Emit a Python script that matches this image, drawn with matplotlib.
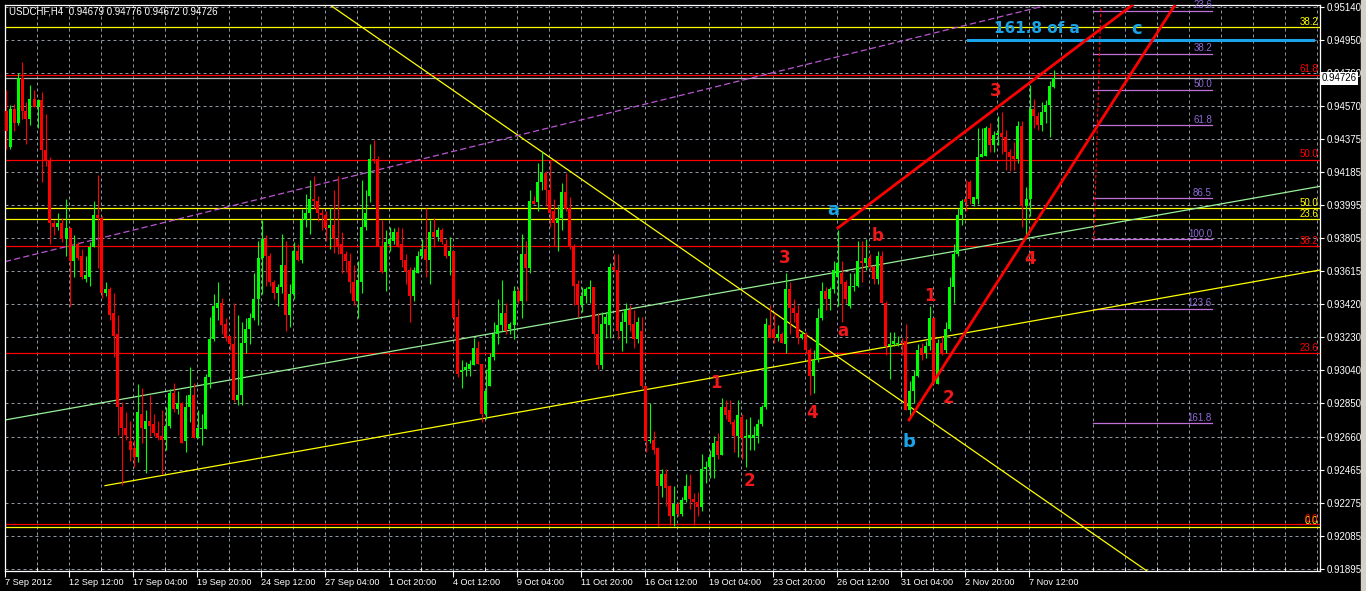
import numpy as np
import matplotlib
matplotlib.use("Agg")
import matplotlib.pyplot as plt
from matplotlib.patches import Rectangle

# USDCHF H4 candles, prices in 1/10000 (9454 -> 0.9454)
opens = [
    9454, 9433, 9455, 9447, 9473, 9454, 9449, 9461, 9456, 9460,
    9431, 9425, 9389, 9387, 9389, 9380, 9386, 9367, 9377, 9370,
    9357, 9358, 9375, 9394, 9392, 9349, 9351, 9337, 9325, 9283,
    9271, 9263, 9259, 9254, 9279, 9270, 9275, 9273, 9268, 9266,
    9264, 9272, 9291, 9282, 9285, 9263, 9283, 9290, 9265, 9270,
    9270, 9300, 9322, 9340, 9343, 9331, 9324, 9319, 9287, 9290,
    9320, 9328, 9334, 9345, 9369, 9380, 9370, 9355, 9349, 9352,
    9365, 9336, 9348, 9373, 9368, 9391, 9395, 9403, 9402, 9395,
    9394, 9386, 9388, 9380, 9377, 9371, 9367, 9355, 9344, 9355,
    9387, 9405, 9426, 9426, 9376, 9361, 9377, 9379, 9384, 9377,
    9368, 9362, 9347, 9360, 9370, 9374, 9368, 9384, 9381, 9385,
    9377, 9370, 9373, 9335, 9303, 9304, 9305, 9307, 9317, 9308,
    9279, 9295, 9312, 9325, 9330, 9337, 9328, 9330, 9350, 9344,
    9371, 9363, 9402, 9401, 9413, 9418, 9408, 9396, 9389, 9392,
    9407, 9398, 9376, 9354, 9342, 9347, 9351, 9352, 9325, 9307,
    9331, 9330, 9364, 9362, 9327, 9332, 9339, 9331, 9322, 9327,
    9295, 9263, 9264, 9259, 9237, 9244, 9237, 9220, 9227, 9221,
    9229, 9237, 9230, 9228, 9225, 9247, 9248, 9254, 9263, 9255,
    9283, 9281, 9274, 9266, 9277, 9265, 9265, 9265, 9266, 9273,
    9283, 9330, 9328, 9323, 9325, 9319, 9351, 9340, 9337, 9323,
    9325, 9316, 9301, 9310, 9334, 9350, 9345, 9351, 9358, 9360,
    9355, 9341, 9352, 9353, 9367, 9366, 9369, 9364, 9357, 9370,
    9343, 9318, 9319, 9319, 9320, 9321, 9281, 9292, 9301, 9317,
    9314, 9318, 9334, 9296, 9320, 9316, 9328, 9352, 9371, 9394,
    9403, 9413, 9400, 9403, 9427, 9428, 9444, 9434, 9440, 9441,
    9439, 9430, 9428, 9426, 9445, 9399, 9403, 9455, 9451, 9446,
    9453, 9457, 9467.9]
highs = [
    9466, 9457, 9458, 9476, 9482, 9459, 9469, 9466, 9461, 9465,
    9452, 9427, 9391, 9395, 9392, 9403, 9387, 9382, 9378, 9374,
    9370, 9378, 9402, 9417, 9393, 9355, 9352, 9349, 9336, 9286,
    9280, 9275, 9264, 9296, 9294, 9281, 9290, 9279, 9275, 9281,
    9283, 9293, 9297, 9292, 9286, 9290, 9306, 9297, 9281, 9279,
    9302, 9335, 9348, 9355, 9346, 9334, 9324, 9343, 9336, 9332,
    9334, 9337, 9360, 9379, 9391, 9382, 9372, 9356, 9354, 9383,
    9379, 9354, 9378, 9377, 9397, 9406, 9414, 9416, 9405, 9397,
    9396, 9398, 9408, 9416, 9384, 9373, 9372, 9365, 9367, 9414,
    9408, 9435, 9437, 9428, 9391, 9385, 9387, 9386, 9387, 9386,
    9371, 9364, 9364, 9373, 9380, 9398, 9391, 9392, 9387, 9386,
    9380, 9381, 9373, 9345, 9310, 9309, 9310, 9323, 9321, 9308,
    9305, 9314, 9332, 9345, 9356, 9343, 9332, 9353, 9352, 9383,
    9379, 9408, 9405, 9424, 9430, 9419, 9425, 9403, 9399, 9412,
    9418, 9404, 9377, 9356, 9352, 9352, 9356, 9352, 9337, 9338,
    9338, 9366, 9371, 9371, 9338, 9343, 9342, 9339, 9335, 9335,
    9295, 9285, 9269, 9260, 9247, 9247, 9238, 9237, 9228, 9231,
    9244, 9244, 9233, 9234, 9256, 9252, 9258, 9266, 9268, 9288,
    9287, 9287, 9276, 9287, 9279, 9276, 9277, 9272, 9276, 9284,
    9334, 9342, 9337, 9330, 9326, 9360, 9355, 9345, 9342, 9327,
    9326, 9317, 9316, 9340, 9355, 9352, 9352, 9367, 9385, 9367,
    9356, 9360, 9360, 9379, 9379, 9380, 9371, 9365, 9373, 9373,
    9344, 9326, 9326, 9324, 9323, 9331, 9298, 9304, 9319, 9320,
    9321, 9341, 9335, 9322, 9324, 9332, 9358, 9377, 9398, 9403,
    9414, 9414, 9404, 9444, 9444, 9445, 9447, 9442, 9451, 9453,
    9443, 9432, 9436, 9448, 9448, 9410, 9469, 9461, 9453, 9459,
    9460, 9471, 9477.6]
lows = [
    9432, 9432, 9442, 9446, 9449, 9435, 9446, 9456, 9444, 9413,
    9422, 9377, 9382, 9385, 9378, 9370, 9341, 9358, 9368, 9357,
    9355, 9353, 9375, 9363, 9346, 9347, 9333, 9312, 9267, 9238,
    9264, 9252, 9248, 9251, 9262, 9245, 9266, 9266, 9264, 9244,
    9258, 9271, 9280, 9279, 9262, 9257, 9274, 9265, 9265, 9261,
    9270, 9294, 9321, 9333, 9325, 9321, 9316, 9286, 9284, 9284,
    9314, 9319, 9333, 9330, 9348, 9353, 9353, 9345, 9341, 9349,
    9327, 9329, 9345, 9367, 9366, 9387, 9383, 9398, 9390, 9385,
    9379, 9374, 9372, 9371, 9360, 9361, 9349, 9342, 9334, 9349,
    9385, 9401, 9424, 9376, 9360, 9350, 9373, 9377, 9375, 9364,
    9354, 9332, 9344, 9360, 9369, 9358, 9354, 9375, 9379, 9377,
    9369, 9359, 9327, 9300, 9294, 9301, 9301, 9307, 9308, 9274,
    9276, 9295, 9310, 9319, 9327, 9325, 9325, 9322, 9343, 9334,
    9344, 9360, 9400, 9396, 9408, 9399, 9387, 9376, 9373, 9385,
    9396, 9374, 9342, 9335, 9338, 9343, 9343, 9314, 9305, 9305,
    9323, 9323, 9361, 9322, 9315, 9320, 9327, 9317, 9320, 9294,
    9257, 9262, 9256, 9214, 9231, 9226, 9215, 9214, 9220, 9220,
    9228, 9224, 9215, 9220, 9223, 9239, 9242, 9242, 9253, 9255,
    9276, 9273, 9257, 9254, 9253, 9248, 9258, 9258, 9262, 9272,
    9282, 9323, 9320, 9321, 9320, 9314, 9325, 9332, 9319, 9322,
    9314, 9290, 9291, 9309, 9333, 9339, 9339, 9349, 9341, 9332,
    9343, 9340, 9350, 9352, 9355, 9362, 9362, 9354, 9354, 9343,
    9313, 9299, 9318, 9318, 9313, 9281, 9276, 9285, 9300, 9310,
    9311, 9316, 9297, 9296, 9313, 9314, 9327, 9343, 9370, 9388,
    9396, 9400, 9399, 9400, 9427, 9428, 9430, 9430, 9434, 9429,
    9420, 9419, 9420, 9424, 9387, 9380, 9393, 9444, 9443, 9442,
    9447, 9439, 9467.2]
closes = [
    9442, 9455, 9447, 9473, 9454, 9449, 9461, 9456, 9460, 9431,
    9425, 9389, 9387, 9389, 9380, 9386, 9367, 9376, 9369, 9358,
    9359, 9375, 9394, 9392, 9349, 9351, 9336, 9324, 9283, 9271,
    9267, 9258, 9254, 9280, 9271, 9275, 9272, 9268, 9265, 9264,
    9272, 9291, 9282, 9285, 9262, 9283, 9290, 9265, 9271, 9271,
    9300, 9322, 9341, 9343, 9330, 9323, 9319, 9287, 9290, 9320,
    9328, 9334, 9345, 9369, 9380, 9370, 9355, 9349, 9352, 9365,
    9336, 9348, 9373, 9368, 9391, 9395, 9403, 9402, 9395, 9394,
    9386, 9388, 9380, 9376, 9371, 9367, 9355, 9344, 9356, 9387,
    9395, 9426, 9425, 9376, 9361, 9378, 9380, 9384, 9376, 9368,
    9361, 9347, 9362, 9370, 9374, 9368, 9384, 9381, 9385, 9378,
    9370, 9373, 9334, 9302, 9304, 9306, 9308, 9317, 9308, 9279,
    9292, 9312, 9325, 9330, 9337, 9327, 9331, 9350, 9344, 9371,
    9363, 9402, 9400, 9413, 9418, 9408, 9395, 9389, 9392, 9407,
    9397, 9376, 9353, 9342, 9347, 9351, 9352, 9325, 9307, 9331,
    9335, 9364, 9362, 9327, 9332, 9339, 9330, 9322, 9332, 9295,
    9263, 9264, 9258, 9237, 9244, 9236, 9220, 9227, 9221, 9229,
    9237, 9230, 9228, 9225, 9247, 9248, 9254, 9262, 9255, 9283,
    9278, 9274, 9266, 9278, 9265, 9266, 9267, 9267, 9273, 9283,
    9331, 9323, 9323, 9325, 9320, 9351, 9340, 9337, 9323, 9325,
    9316, 9301, 9310, 9334, 9350, 9345, 9351, 9362, 9366, 9354,
    9345, 9353, 9353, 9367, 9366, 9369, 9364, 9357, 9370, 9343,
    9318, 9319, 9321, 9320, 9319, 9281, 9292, 9301, 9316, 9313,
    9318, 9334, 9297, 9320, 9314, 9328, 9352, 9371, 9394, 9402,
    9401, 9403, 9404, 9427, 9429, 9444, 9434, 9440, 9441, 9439,
    9430, 9427, 9426, 9445, 9399, 9403, 9455, 9451, 9446, 9453,
    9457, 9468, 9472.6]

x_labels = ["7 Sep 2012", "12 Sep 12:00", "17 Sep 04:00", "19 Sep 20:00",
            "24 Sep 12:00", "27 Sep 04:00", "1 Oct 20:00", "4 Oct 12:00",
            "9 Oct 04:00", "11 Oct 20:00", "16 Oct 12:00", "19 Oct 04:00",
            "23 Oct 20:00", "26 Oct 12:00", "31 Oct 04:00", "2 Nov 20:00",
            "7 Nov 12:00"]
y_labels = ["0.95140", "0.94950", "0.94760", "0.94570", "0.94375", "0.94185",
            "0.93995", "0.93805", "0.93615", "0.93420", "0.93230", "0.93040",
            "0.92850", "0.92660", "0.92465", "0.92275", "0.92085", "0.91895"]

# fibonacci levels
red_fib_levels = ["61.8", "50.0", "38.2", "23.6", "0.0"]
red_fib_prices = [0.94746, 0.94255, 0.93757, 0.93139, 0.92152]
yellow_fib_levels = ["38.2", "50.0", "23.6", "0.0"]
yellow_fib_prices = [0.95021, 0.93976, 0.93913, 0.92136]
purple_fib_levels = ["23.6", "38.2", "50.0", "61.8", "86.5", "100.0", "123.6", "161.8"]
purple_fib_prices = [0.95115, 0.94867, 0.94659, 0.94456, 0.94034, 0.93797, 0.93395, 0.92735]
purple_fib_span = (271.75, 301.5)
target_price = 0.94948
target_span = (240.5, 326.75)
last_price = 0.94726

# trend lines as (bar, price) pairs
green_line = [(-0.25, 0.92754), (328.5, 0.94103)]
yellow_up_line = [(24.75, 0.92375), (328.5, 0.93620)]
yellow_down_line = [(81.0, 0.95150), (285.25, 0.91882)]
violet_line = [(-0.25, 0.93668), (260.5, 0.95150)]
red_upper = [(208.0, 0.93863), (281.6, 0.95150)]
red_lower = [(225.75, 0.92754), (292.25, 0.95150)]
fib_base = [(272.0, 0.93797), (274.2, 0.95515)]

# wave labels (text, bar, price)
red_waves = [("1", 177.5, 0.92968), ("2", 185.75, 0.92402), ("3", 194.75, 0.93689),
             ("4", 201.5, 0.92794), ("a", 209.25, 0.93268), ("b", 218.0, 0.93816),
             ("1", 231.0, 0.93470), ("2", 235.5, 0.92881), ("3", 247.5, 0.94654),
             ("4", 256.0, 0.93684)]
cyan_waves = [("a", 206.75, 0.93966), ("b", 225.75, 0.92627), ("c", 282.75, 0.95012)]
target_text = ("161.8 of a", 257.75, 0.95012)

W, H = 1366, 591
RED, YEL, CYAN = "#ff0000", "#ffff00", "#1aa3e8"
plt.rcParams["font.family"] = ["Liberation Sans", "DejaVu Sans"]

fig = plt.figure(figsize=(W / 100, H / 100), dpi=100, facecolor="black")
ax = fig.add_axes([5 / W, (H - 571) / H, (1320 - 5) / W, (571 - 5) / H], facecolor="black")
ax.set_xlim(-0.25, 328.5)
ax.set_ylim(0.91882, 0.95150)

# grid
grid_kw = dict(color="#8e96a0", lw=0.72, ls=(0, (3, 3)), zorder=1)
xt_major = [16 * m - 0.2 for m in range(len(x_labels))]
xt_minor = [8 * k - 0.2 for k in range(42)]
yt = np.linspace(float(y_labels[-1]), float(y_labels[0]), len(y_labels))
for xv in xt_minor[1:]:
    ax.axvline(xv, **grid_kw)
for yv in yt:
    ax.axhline(yv, **grid_kw)

# horizontal fib lines
for lv, p in zip(yellow_fib_levels, yellow_fib_prices):
    ax.axhline(p, color=YEL, lw=0.9, zorder=2)
    ax.text(328.0, p + 0.00004, lv, color=YEL, fontsize=7, ha="right", va="bottom", zorder=3)
for lv, p in zip(red_fib_levels, red_fib_prices):
    ax.axhline(p, color=RED, lw=0.9, zorder=2)
    ax.text(328.0, p + 0.00004, lv, color=RED, fontsize=7, ha="right", va="bottom", zorder=3)
ax.axhline(last_price, color="#b4b4b4", lw=0.9, zorder=2)
for lv, p in zip(purple_fib_levels, purple_fib_prices):
    ax.plot(purple_fib_span, [p, p], color="#c071d8", lw=0.9, zorder=2)
    ax.text(purple_fib_span[1], p + 0.00004, lv, color="#8f6ad8", fontsize=7,
            ha="right", va="bottom", zorder=3)

# trend lines
def seg(line, **kw):
    (x0, y0), (x1, y1) = line
    ax.plot([x0, x1], [y0, y1], **kw)

seg(green_line, color="#98f098", lw=0.9, zorder=2)
seg(yellow_up_line, color=YEL, lw=0.9, zorder=2)
seg(yellow_down_line, color=YEL, lw=0.9, zorder=2)
seg(violet_line, color="#ba55d3", lw=0.9, ls=(0, (5, 2.5)), zorder=2)
seg(fib_base, color=RED, lw=0.8, ls=(0, (3, 2)), zorder=2)
ax.plot(target_span, [target_price, target_price], color=CYAN, lw=2.2, zorder=3)

# candles
o = np.array(opens) / 1e4
h = np.array(highs) / 1e4
l = np.array(lows) / 1e4
c = np.array(closes) / 1e4
idx = np.arange(len(o))
cols = np.where(c >= o, "#00ff00", "#ff0000")
ax.vlines(idx, l, h, colors=cols, lw=0.8, zorder=4)
ax.bar(idx, np.maximum(np.abs(c - o), 0.00006), bottom=np.minimum(o, c),
       width=0.75, color=cols, lw=0, zorder=5)

seg(red_upper, color=RED, lw=2.0, zorder=6)
seg(red_lower, color=RED, lw=2.0, zorder=6)

# wave labels
for t, xv, yv in red_waves:
    ax.text(xv, yv, t, color="#f01818", fontsize=12, fontweight="bold",
            family="DejaVu Sans", ha="center", va="center", zorder=7)
for t, xv, yv in cyan_waves:
    ax.text(xv, yv, t, color=CYAN, fontsize=13, fontweight="bold",
            family="DejaVu Sans", ha="center", va="center", zorder=7)
ax.text(target_text[1], target_text[2], target_text[0], color=CYAN, fontsize=11,
        fontweight="bold", family="DejaVu Sans", ha="center", va="center", zorder=7)

# axes styling
for sp in ax.spines.values():
    sp.set_color("white")
    sp.set_linewidth(0.9)
ax.yaxis.tick_right()
ax.set_yticks(yt)
ax.set_yticklabels(y_labels[::-1])
ax.set_xticks(xt_major)
ax.set_xticklabels(x_labels)
ax.set_xticks(xt_minor, minor=True)
for lab in ax.get_xticklabels():
    lab.set_ha("left")
ax.tick_params(axis="y", direction="out", length=3, color="white", labelcolor="white",
               labelsize=7, pad=2)
ax.tick_params(axis="x", which="major", direction="out", length=4, color="white",
               labelcolor="white", labelsize=6.6, pad=1)
ax.tick_params(axis="x", which="minor", direction="in", length=3, color="white")

# last price marker on the price scale
ax.text(1.0012, last_price, "0.94726", transform=ax.get_yaxis_transform(), ha="left",
        va="center", fontsize=7, color="black", clip_on=False, zorder=10,
        bbox=dict(boxstyle="square,pad=0.18", fc="white", ec="none"))

fig.text(9 / W, 1 - 12 / H, "USDCHF,H4  0.94679 0.94776 0.94672 0.94726",
         color="white", fontsize=7, ha="left", va="center")
fig.patches.append(Rectangle((1361 / W, 0), 5 / W, 1, transform=fig.transFigure,
                             color="#d4d0c8", zorder=0))

fig.savefig("out.png", dpi=100, facecolor="black")
